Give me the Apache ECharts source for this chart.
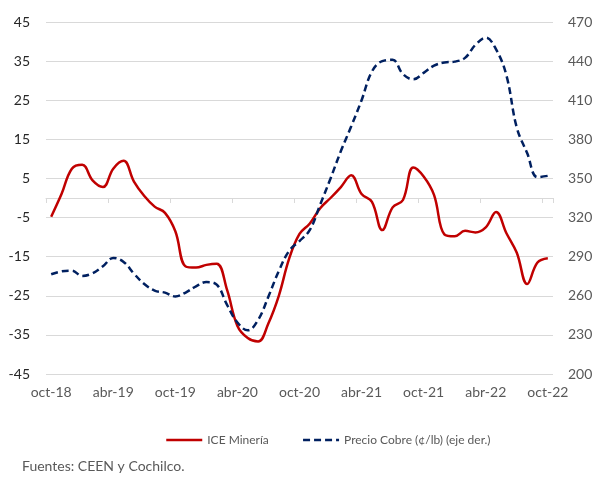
<!DOCTYPE html>
<html>
<head>
<meta charset="utf-8">
<script src="https://cdn.jsdelivr.net/npm/echarts@6/dist/echarts.min.js"></script>
<style>
  html, body { margin: 0; padding: 0; background: #fff; }
  #chart { width: 597px; height: 482px; }
</style>
</head>
<body>
<div id="chart"></div>
<script>
// meses oct-18 .. oct-22 (49 puntos mensuales)
const months = [
  'oct-18', 'nov-18', 'dic-18', 'ene-19', 'feb-19', 'mar-19',
  'abr-19', 'may-19', 'jun-19', 'jul-19', 'ago-19', 'sep-19',
  'oct-19', 'nov-19', 'dic-19', 'ene-20', 'feb-20', 'mar-20',
  'abr-20', 'may-20', 'jun-20', 'jul-20', 'ago-20', 'sep-20',
  'oct-20', 'nov-20', 'dic-20', 'ene-21', 'feb-21', 'mar-21',
  'abr-21', 'may-21', 'jun-21', 'jul-21', 'ago-21', 'sep-21',
  'oct-21', 'nov-21', 'dic-21', 'ene-22', 'feb-22', 'mar-22',
  'abr-22', 'may-22', 'jun-22', 'jul-22', 'ago-22', 'sep-22',
  'oct-22',
]

// ICE Minería (eje izq.)
const iceMineria = [
  -4.8, 1.0, 7.5, 8.5, 4.5, 2.8,
  7.5, 9.5, 4.2, 0.5, -2.2, -3.8,
  -8.5, -17.5, -17.8, -17.1, -16.8, -23.5,
  -32.7, -35.8, -36.7, -32.0, -25.0, -15.5,
  -9.2, -6.5, -2.6, 0.0, 2.8, 5.8,
  1.0, -1.0, -8.2, -2.4, -0.5, 7.8,
  5.5, 0.8, -9.3, -9.8, -8.4, -8.8,
  -7.5, -3.6, -9.0, -14.0, -22.0, -16.5,
  -15.4,
]

// Precio Cobre en ¢/lb (eje der.)
const precioCobre = [
  276.5, 278.7, 279.2, 275.2, 277.3, 282.6,
  289, 286, 277, 269, 264, 262.4,
  259.5, 262.5, 267.3, 270.5, 268.5, 253,
  239.5, 233.5, 241.5, 259.5, 279, 294.5,
  302, 310.5, 330, 350, 371, 390,
  410, 432, 440, 441, 430, 426,
  431, 436.5, 439, 439.6, 442.5, 452.5,
  458, 449, 429, 389, 369.5, 351,
  352,
]

const leftTicks = { min: -45, max: 45, step: 10 }
const rightTicks = { min: 200, max: 470, step: 30 }

const FONT = 'Lato'
const chart = echarts.init(document.getElementById('chart'))

chart.setOption({
  animation: false,
  textStyle: { fontFamily: FONT },
  grid: { left: 46, right: 44, top: 22, bottom: 108 },
  legend: {
    left: 160,
    top: 429,
    itemWidth: 36,
    itemHeight: 14,
    itemGap: 33,
    itemStyle: { opacity: 0 },
    lineStyle: { width: 2.5 },
    textStyle: { color: '#595959', fontSize: 12, fontFamily: FONT },
  },
  xAxis: [
    {
      // etiquetas abajo
      type: 'category',
      data: months,
      position: 'bottom',
      boundaryGap: true,
      axisLine: { show: false, onZero: false },
      axisTick: { show: false },
      axisLabel: { interval: 5, margin: 11, color: '#595959', fontSize: 14, fontFamily: FONT },
    },
    {
      // línea del eje en cero, con marcas
      type: 'category',
      data: months,
      position: 'bottom',
      boundaryGap: true,
      axisLine: { show: true, onZero: true, onZeroAxisIndex: 0, lineStyle: { color: '#d9d9d9', width: 1 } },
      axisTick: { show: true, interval: 5, length: 5, lineStyle: { color: '#d9d9d9' } },
      axisLabel: { show: false },
    },
  ],
  yAxis: [
    {
      type: 'value',
      position: 'left',
      min: leftTicks.min,
      max: leftTicks.max,
      interval: leftTicks.step,
      axisLine: { show: false },
      axisTick: { show: false },
      axisLabel: { margin: 16, color: '#262626', fontSize: 14, fontFamily: FONT },
      splitLine: { lineStyle: { color: '#d9d9d9', width: 1 } },
    },
    {
      type: 'value',
      position: 'right',
      min: rightTicks.min,
      max: rightTicks.max,
      interval: rightTicks.step,
      axisLine: { show: false },
      axisTick: { show: false },
      axisLabel: { margin: 15, color: '#595959', fontSize: 14, fontFamily: FONT },
      splitLine: { show: false },
    },
  ],
  series: [
    {
      name: 'ICE Minería',
      type: 'line',
      xAxisIndex: 0,
      yAxisIndex: 0,
      data: iceMineria,
      smooth: 0.4,
      symbol: 'none',
      color: '#c00000',
      lineStyle: { color: '#c00000', width: 2.5 },
    },
    {
      name: 'Precio Cobre (¢/lb) (eje der.)',
      type: 'line',
      xAxisIndex: 0,
      yAxisIndex: 1,
      data: precioCobre,
      smooth: 0.4,
      symbol: 'none',
      color: '#002060',
      lineStyle: { color: '#002060', width: 2.5, type: [7, 4] },
    },
  ],
  graphic: [
    {
      type: 'text',
      left: 22,
      top: 459,
      style: { text: 'Fuentes: CEEN y Cochilco.', fill: '#595959', font: '14px Lato' },
    },
  ],
})
</script>
</body>
</html>
